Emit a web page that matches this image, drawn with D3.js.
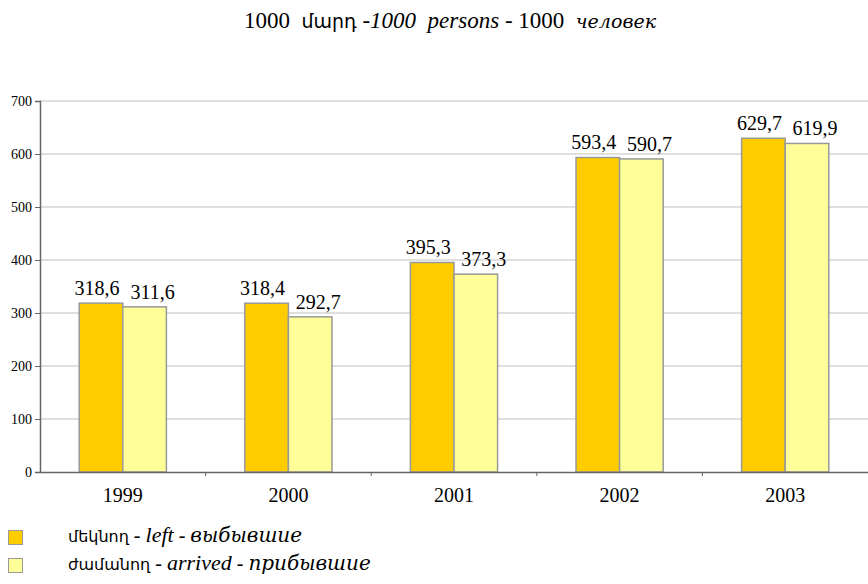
<!DOCTYPE html>
<html lang="hy">
<head>
<meta charset="UTF-8">
<title>Migration 1999-2003</title>
<style>
  body { margin: 0; background: #fff; }
  svg text { fill: #000; }
</style>
</head>
<body>
<div id="chart"></div>
<script src="https://d3js.org/d3.v7.min.js"></script>
<script>
// data
const years = ["1999", "2000", "2001", "2002", "2003"];
const leftValues = [318.6, 318.4, 395.3, 593.4, 629.7];
const arrivedValues = [311.6, 292.7, 373.3, 590.7, 619.9];
const yTicks = [0, 100, 200, 300, 400, 500, 600, 700];
const seriesNames = ["left", "arrived"];

const W = 868, H = 584;
const plot = { left: 40, right: 868, top: 101, bottom: 472 };
const colors = { left: "#ffcc00", arrived: "#ffff99" };
const SERIF = "'Liberation Serif', 'Times New Roman', serif";
const SANS = "'DejaVu Sans', sans-serif";
const CYR = "'DejaVu Serif', serif";
const labelShift = { left: -4, arrived: 8 };

const svg = d3.select("#chart").append("svg")
  .attr("width", W).attr("height", H);

const x = d3.scaleBand().domain(years).range([plot.left, plot.right]);
const xSub = d3.scaleBand().domain(seriesNames)
  .range([0, x.bandwidth()]).paddingInner(0).paddingOuter(0.9);
const y = d3.scaleLinear().domain([0, 700]).range([plot.bottom, plot.top]);

// title
const title = svg.append("text").attr("x", 450).attr("y", 28)
  .attr("text-anchor", "middle")
  .attr("font-family", SERIF).attr("font-size", 23);
title.append("tspan").text("1000\u00a0\u00a0");
title.append("tspan").attr("font-family", SANS).attr("font-size", 19).text("մարդ");
title.append("tspan").text(" -");
title.append("tspan").attr("font-style", "italic").text("1000\u00a0\u00a0persons");
title.append("tspan").text(" - 1000\u00a0\u00a0");
title.append("tspan").attr("font-style", "italic").attr("font-family", CYR).attr("font-size", 19).text("человек");

// gridlines
svg.append("g").selectAll("line").data(yTicks.filter(d => d > 0)).join("line")
  .attr("x1", plot.left).attr("x2", plot.right)
  .attr("y1", d => y(d)).attr("y2", d => y(d))
  .attr("stroke", "#c0c0c0").attr("stroke-width", 1);

// bars
const rows = years.map((yr, i) => ({ year: yr, left: leftValues[i], arrived: arrivedValues[i] }));
const groups = svg.append("g").selectAll("g").data(rows).join("g")
  .attr("transform", d => `translate(${x(d.year)},0)`);

groups.selectAll("rect")
  .data(d => seriesNames.map(k => ({ key: k, value: d[k] })))
  .join("rect")
  .attr("x", d => xSub(d.key))
  .attr("y", d => y(d.value))
  .attr("width", xSub.bandwidth())
  .attr("height", d => y(0) - y(d.value))
  .attr("fill", d => colors[d.key])
  .attr("stroke", "#999").attr("stroke-width", 1.5);

groups.selectAll("text.val")
  .data(d => seriesNames.map(k => ({ key: k, value: d[k] })))
  .join("text").attr("class", "val")
  .attr("x", d => xSub(d.key) + xSub.bandwidth() / 2 + labelShift[d.key])
  .attr("y", d => y(d.value) - 8)
  .attr("text-anchor", "middle")
  .attr("font-family", SERIF).attr("font-size", 20)
  .text(d => d3.format(".1f")(d.value).replace(".", ","));

// y axis
const yAxis = svg.append("g").attr("transform", `translate(${plot.left},0)`)
  .call(d3.axisLeft(y).tickValues(yTicks).tickSize(5).tickPadding(3).tickFormat(d3.format("d")))
  .attr("font-family", SERIF).attr("font-size", 14);
yAxis.select(".domain").attr("stroke", "#666").attr("stroke-width", 1.5);
yAxis.selectAll(".tick line").attr("stroke", "#666");

// x axis
const xAxis = svg.append("g").attr("transform", `translate(0,${plot.bottom})`)
  .call(d3.axisBottom(x).tickSize(0).tickPadding(16))
  .attr("font-family", SERIF).attr("font-size", 20);
xAxis.select(".domain").attr("stroke", "#666").attr("stroke-width", 1.5);
xAxis.selectAll("line.sep").data(years.slice(1)).join("line").attr("class", "sep")
  .attr("x1", d => x(d)).attr("x2", d => x(d))
  .attr("y1", 0).attr("y2", 4).attr("stroke", "#666");

// legend
const legendItems = [
  { key: "left", parts: [["մեկնող", "normal", SANS, 16], [" - ", "normal", SERIF, 20], ["left", "italic", SERIF, 22], [" - ", "normal", SERIF, 20], ["выбывшие", "italic", CYR, 20]] },
  { key: "arrived", parts: [["ժամանող", "normal", SANS, 16], [" - ", "normal", SERIF, 20], ["arrived", "italic", SERIF, 22], [" - ", "normal", SERIF, 20], ["прибывшие", "italic", CYR, 20]] }
];
const legend = svg.append("g").selectAll("g").data(legendItems).join("g")
  .attr("transform", (d, i) => `translate(0,${530 + i * 28})`);
legend.append("rect").attr("x", 8.5).attr("y", 0.5).attr("width", 14).attr("height", 14)
  .attr("fill", d => colors[d.key]).attr("stroke", "#999").attr("stroke-width", 1);
const lt = legend.append("text").attr("x", 68).attr("y", 12);
lt.selectAll("tspan").data(d => d.parts).join("tspan")
  .attr("font-style", d => d[1])
  .attr("font-family", d => d[2])
  .attr("font-size", d => d[3])
  .text(d => d[0]);
</script>
</body>
</html>
